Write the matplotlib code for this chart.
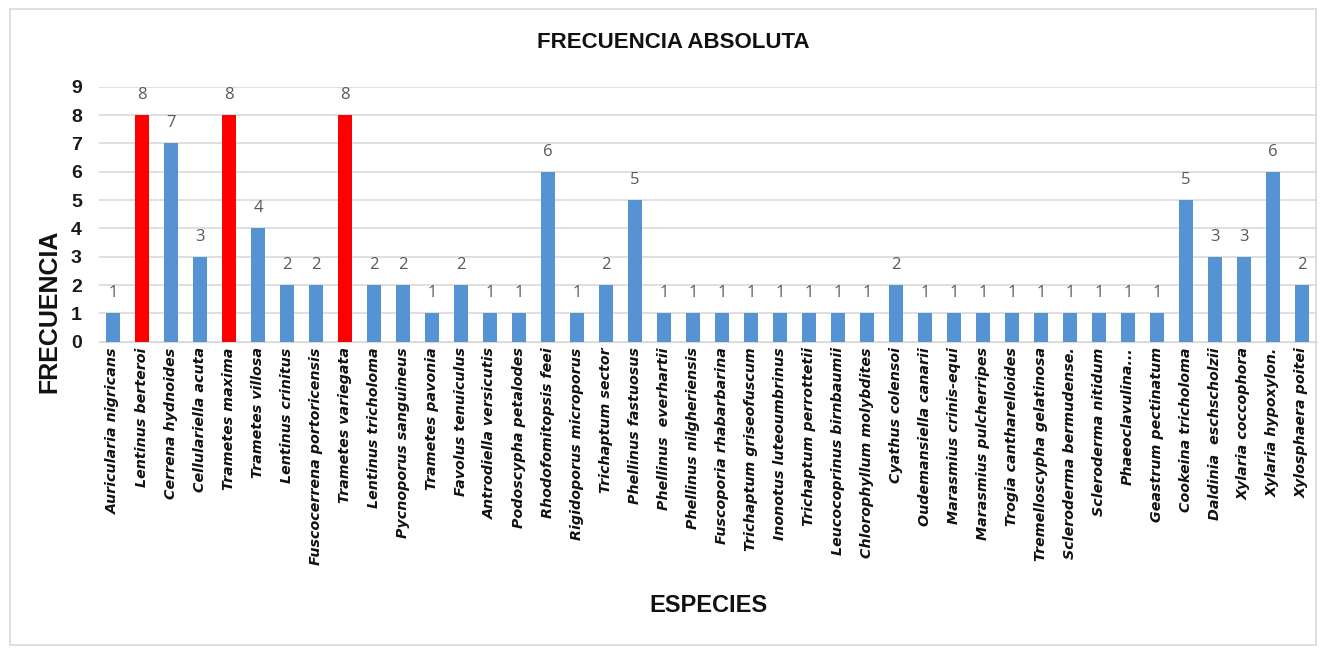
import matplotlib
matplotlib.use("Agg")
import matplotlib.pyplot as plt
from matplotlib.patches import Rectangle

species = [
    "Auricularia nigricans", "Lentinus berteroi", "Cerrena hydnoides", "Cellulariella acuta",
    "Trametes maxima", "Trametes villosa", "Lentinus crinitus", "Fuscocerrena portoricensis",
    "Trametes variegata", "Lentinus tricholoma", "Pycnoporus sanguineus", "Trametes pavonia",
    "Favolus tenuiculus", "Antrodiella versicutis", "Podoscypha petalodes", "Rhodofomitopsis feei",
    "Rigidoporus microporus", "Trichaptum sector", "Phellinus fastuosus", "Phellinus  everhartii",
    "Phellinus nilgheriensis", "Fuscoporia rhabarbarina", "Trichaptum griseofuscum",
    "Inonotus luteoumbrinus", "Trichaptum perrottetii", "Leucocoprinus birnbaumii",
    "Chlorophyllum molybdites", "Cyathus colensoi", "Oudemansiella canarii",
    "Marasmius crinis-equi", "Marasmius pulcherripes", "Trogia cantharelloides",
    "Tremelloscypha gelatinosa", "Scleroderma bermudense.", "Scleroderma nitidum",
    "Phaeoclavulina...", "Geastrum pectinatum", "Cookeina tricholoma", "Daldinia  eschscholzii",
    "Xylaria coccophora", "Xylaria hypoxylon.", "Xylosphaera poitei",
]
frecuencia = [1, 8, 7, 3, 8, 4, 2, 2, 8, 2, 2, 1, 2, 1, 1, 6, 1, 2, 5, 1, 1, 1, 1, 1, 1, 1,
              1, 2, 1, 1, 1, 1, 1, 1, 1, 1, 1, 5, 3, 3, 6, 2]
highlight = ["Lentinus berteroi", "Trametes maxima", "Trametes variegata"]
yticks = list(range(0, 10))

W, H = 1326, 649
fig = plt.figure(figsize=(W / 100, H / 100), dpi=100)
fig.patches.append(Rectangle((10 / W, 4 / H), 1306 / W, 636 / H, transform=fig.transFigure,
                             fill=False, edgecolor="#D9D9D9", linewidth=1.2))

ax = fig.add_axes([98.5 / W, 1 - 341.7 / H, 1218 / W, 255 / H])
x = list(range(len(species)))
colors = ["#FF0000" if s in highlight else "#5593D3" for s in species]
bars = ax.bar(x, frecuencia, width=0.48, color=colors, zorder=3)
for xi, v in zip(x, frecuencia):
    ax.text(xi, v + 0.42, str(v), ha="center", va="bottom", fontsize=12,
            color="#595959", family="Open Sans", zorder=4)

ax.set_xlim(-0.5, len(species) - 0.5)
ax.set_ylim(0, 9)
ax.set_yticks(yticks)
ax.set_yticklabels([str(t) for t in yticks], fontsize=14, fontweight="bold",
                   family="Liberation Sans", color="#1a1a1a")
ax.grid(axis="y", color="#D9D9D9", linewidth=1.2, zorder=0)
for s in ["top", "right", "left"]:
    ax.spines[s].set_visible(False)
ax.spines["bottom"].set_color("#D9D9D9")
ax.tick_params(axis="y", length=0, pad=12)
ax.tick_params(axis="x", length=0, pad=4)
ax.set_xticks(x)
ax.set_xticklabels(species, rotation=90, fontsize=10.3, fontstyle="italic", fontweight="bold",
                   family="DejaVu Sans", color="#111111", va="top", ha="center")

fig.text(673 / W, 1 - 43 / H, "FRECUENCIA ABSOLUTA", ha="center", va="center",
         fontsize=16, fontweight="bold", family="Liberation Sans", color="#111111")
fig.text(708 / W, 1 - 606 / H, "ESPECIES", ha="center", va="center",
         fontsize=17, fontweight="bold", family="Liberation Sans", color="#111111")
fig.text(49 / W, 1 - 311 / H, "FRECUENCIA", ha="center", va="center", rotation=90,
         fontsize=18, fontweight="bold", family="Liberation Sans", color="#111111")

fig.savefig("out.png", dpi=100, facecolor="white")
